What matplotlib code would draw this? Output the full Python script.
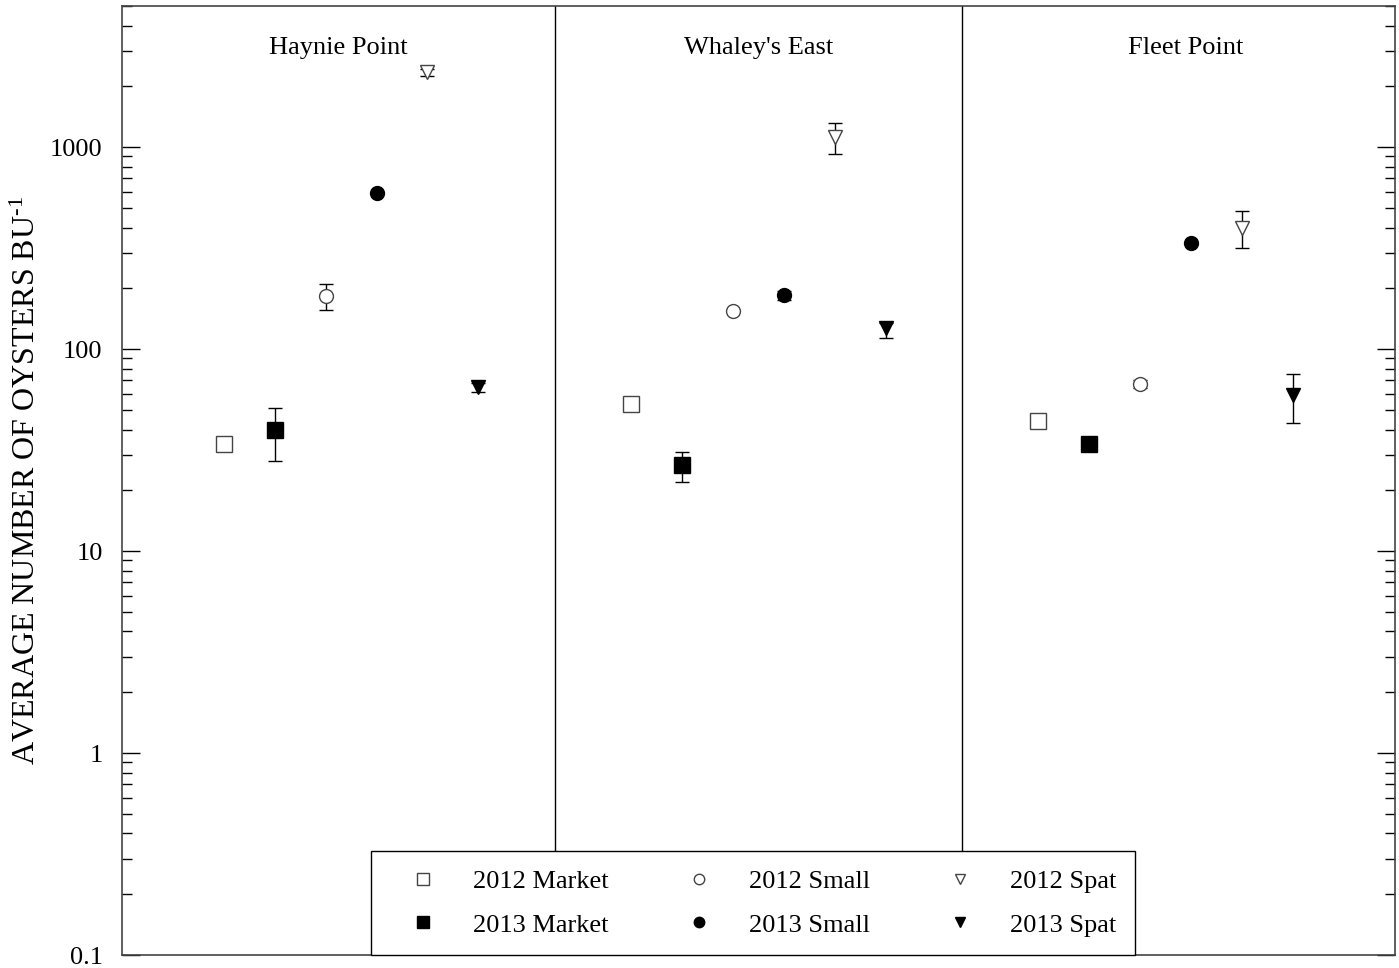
import matplotlib
matplotlib.use("Agg")
import matplotlib.pyplot as plt
from matplotlib.ticker import FixedLocator, FixedFormatter, LogLocator, NullFormatter
import numpy as np

plt.rcParams['font.family'] = ['Liberation Serif', 'DejaVu Serif']
plt.rcParams['mathtext.fontset'] = 'custom'
plt.rcParams['mathtext.rm'] = 'Liberation Serif'
plt.rcParams['mathtext.it'] = 'Liberation Serif:italic'

sites = ["Haynie Point", "Whaley's East", "Fleet Point"]
series = ["2012 Market", "2013 Market", "2012 Small", "2013 Small", "2012 Spat", "2013 Spat"]
# x slots: each site has 6 slots, separated by a gap
x_pos = [[2, 3, 4, 5, 6, 7], [10, 11, 12, 13, 14, 15], [18, 19, 20, 21, 22, 23]]

# mean values per site, in series order
haynie = [34, 39.7, 183, 592, 2350, 65]
whaley = [53.5, 26.7, 154, 185, 1120, 127]
fleet = [44, 34, 67, 335, 397, 59]
# error bar upper / lower limits
haynie_hi = [34, 51, 210, 592, 2450, 68]
haynie_lo = [34, 28, 156, 592, 2250, 61]
whaley_hi = [55.5, 31, 154, 195, 1315, 135]
whaley_lo = [51, 22, 154, 175, 923, 113]
fleet_hi = [44, 34, 70, 335, 482, 75]
fleet_lo = [44, 34, 64, 335, 316, 43]

means = [haynie, whaley, fleet]
his = [haynie_hi, whaley_hi, fleet_hi]
los = [haynie_lo, whaley_lo, fleet_lo]

markers = ['s', 's', 'o', 'o', 'v', 'v']
faces = ['white', 'black', 'white', 'black', 'white', 'black']
msizes = [11, 11, 10, 10, 10, 10]

fig = plt.figure(figsize=(13.99, 9.68), dpi=100)
ax = fig.add_axes([0.0872, 0.0134, 0.9098, 0.9804])

handles = []
for s in range(3):
    for k in range(6):
        y = means[s][k]
        err = [[y - los[s][k]], [his[s][k] - y]]
        ax.errorbar([x_pos[s][k]], [y], yerr=err, fmt='none', ecolor='black',
                    elinewidth=1, capsize=5, capthick=1, zorder=2)
        h, = ax.plot([x_pos[s][k]], [y], linestyle='none', marker=markers[k],
                     markersize=msizes[k], markerfacecolor=faces[k],
                     markeredgecolor='black' if faces[k] == 'black' else '#444444',
                     markeredgewidth=1, zorder=3, label=series[k])
        if s == 0:
            handles.append(h)

ax.axvline(8.5, color='black', lw=1, zorder=1)
ax.axvline(16.5, color='black', lw=1, zorder=1)

label_x = [4.25, 12.5, 20.9]
for s in range(3):
    ax.text(label_x[s], 0.956, sites[s], transform=ax.get_xaxis_transform(),
            ha='center', va='center', fontsize=19)

ax.set_yscale('log')
ax.set_ylim(0.1, 5000)
ax.set_xlim(0, 25)
ax.set_xticks([])

yticks = [0.1, 1, 10, 100, 1000]
ax.yaxis.set_major_locator(FixedLocator(yticks))
ax.yaxis.set_major_formatter(FixedFormatter(['0.1', '1', '10', '100', '1000']))
ax.yaxis.set_minor_locator(LogLocator(base=10, subs=np.arange(2, 10)))
ax.yaxis.set_minor_formatter(NullFormatter())
ax.tick_params(axis='y', which='major', direction='in', length=13, width=1,
               right=True, labelsize=19, pad=14)
ax.tick_params(axis='y', which='minor', direction='in', length=7, width=1, right=True)
for sp in ax.spines.values():
    sp.set_linewidth(1.2)
    sp.set_color('#444444')

ax.set_ylabel('AVERAGE NUMBER OF OYSTERS BU$^{\\text{-1}}$', fontsize=23, labelpad=6)

leg = ax.legend(handles=handles, ncol=3, loc='lower left',
                bbox_to_anchor=(0.196, 0.0, 0.6, 0.106), mode='expand',
                borderaxespad=0, fontsize=19, frameon=True, fancybox=False,
                edgecolor='black', facecolor='white', framealpha=1,
                markerscale=0.75, handlelength=2.5, handletextpad=0.65,
                borderpad=0.7, labelspacing=0.75, columnspacing=1.0)
leg.get_frame().set_linewidth(1)
leg.set_zorder(5)

fig.savefig('out.png', dpi=100)
